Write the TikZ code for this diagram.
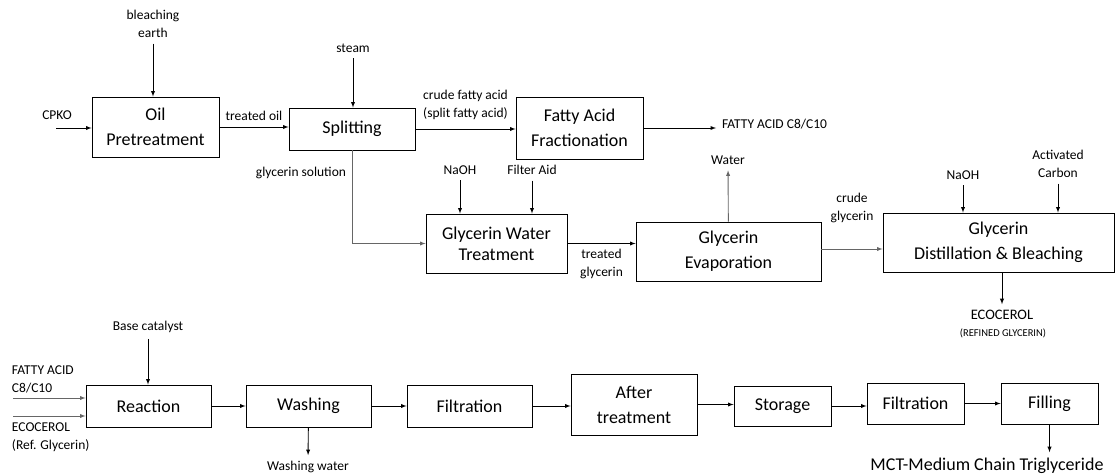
\documentclass[tikz,border=0pt]{standalone}
\usepackage{fontspec}
\setmainfont{Carlito}
\usetikzlibrary{arrows}
\tikzset{
    unit/.style={
    rectangle,draw=black,line width=0.9pt,align=center,inner sep=0pt,
    font=\fontsize{18}{25}\selectfont
    },
    stream/.style={
    align=center,inner sep=1pt,outer sep=5pt,font=\fontsize{13.5}{18}\selectfont
    },
    flow/.style={
    ->,>=latex,line width=0.9pt
    },
    lightflow/.style={
    flow,every edge/.append style={draw=black!60}
    },
}

\begin{document}
\begin{tikzpicture}[x=1pt,y=-1pt]
   \useasboundingbox (0,0) rectangle (1117,476);

   %glycerin line
   \node[unit,minimum width=127pt,minimum height=60pt] (oil) at (155.5,127) {Oil\\Pretreatment};
   \node[unit,minimum width=126pt,minimum height=42pt] (split) at (352,129) {Splitting};
   \node[unit,minimum width=127pt,minimum height=62pt] (frac) at (579.5,128) {Fatty Acid\\Fractionation};
   \node[unit,minimum width=141pt,minimum height=59pt,font=\fontsize{18}{21}\selectfont] (gwt) at (496.5,243.5) {Glycerin Water\\Treatment};
   \node[unit,minimum width=185pt,minimum height=59pt] (evap) at (728.5,251.5) {Glycerin\\Evaporation};
   \node[unit,minimum width=231pt,minimum height=59pt] (dist) at (998.5,242.5) {Glycerin\\Distillation \& Bleaching};

   %MCT line
   \node[unit,minimum width=125pt,minimum height=42pt] (react) at (148.5,406) {Reaction};
   \node[unit,minimum width=125pt,minimum height=42pt] (wash) at (308.5,406) {Washing};
   \node[unit,minimum width=125pt,minimum height=42pt] (filta) at (469.5,406) {Filtration};
   \node[unit,minimum width=126pt,minimum height=61pt] (after) at (634,404.5) {After\\treatment};
   \node[unit,minimum width=97pt,minimum height=40pt] (store) at (782.5,406) {Storage};
   \node[unit,minimum width=97pt,minimum height=41pt] (filtb) at (915.5,403.5) {Filtration};
   \node[unit,minimum width=97pt,minimum height=41pt] (filling) at (1049.5,403.5) {Filling};

   %feeds and products
   \node[stream] (cpko) at (57,115) {CPKO};
   \coordinate (cpkoin) at (56,128);
   \node[stream] (bleach) at (153,24) {bleaching\\earth};
   \node[stream] (steam) at (353,48) {steam};
   \node[stream,anchor=west] (fafrac) at (716,124) {FATTY ACID C8/C10};
   \node[stream] (naoha) at (460,170) {NaOH};
   \node[stream] (aid) at (532,170) {Filter Aid};
   \node[stream] (water) at (728,160) {Water};
   \node[stream] (naohb) at (963,175) {NaOH};
   \node[stream] (carbon) at (1058,164) {Activated\\Carbon};
   \node[stream,font=\fontsize{14.5}{18}\selectfont] (eco) at (1002,315) {ECOCEROL};
   \node[stream,font=\fontsize{10.5}{12}\selectfont] (ecoref) at (1003,333) {(REFINED GLYCERIN)};
   \coordinate (evapout) at ([yshift=2.5pt]evap.east);

   \node[stream] (base) at (148,327) {Base catalyst};
   \node[stream,anchor=west,align=left] (falab) at (6,379.5) {FATTY ACID\\C8/C10};
   \node[stream,anchor=west,align=left] (gllab) at (6,437.5) {ECOCEROL\\(Ref. Glycerin)};
   \coordinate (fain) at (13,398);
   \coordinate (glin) at (13,416);
   \node[stream] (washw) at (308,467) {Washing water};
   \node[stream,font=\fontsize{18}{22}\selectfont] (mct) at (987,466) {MCT-Medium Chain Triglyceride};

  \path[flow]
    (cpkoin) edge (cpkoin -| oil.west)
    (bleach) edge (bleach |- oil.north)
    (oil.east) edge node [stream,above] {treated oil} (oil.east -| split.west)
    (steam) edge (steam |- split.north)
    (split.east) edge node [stream,above=3pt] {crude fatty acid\\(split fatty acid)} (split.east -| frac.west)
    (frac.east) edge (frac.east -| fafrac.west)
    (naoha) edge (naoha |- gwt.north)
    (aid) edge (aid |- gwt.north)
    (gwt.east) edge node [stream,below] {treated\\glycerin} (gwt.east -| evap.west)
    (naohb) edge (naohb |- dist.north)
    (carbon) edge (carbon |- dist.north)
    (eco.north |- dist.south) edge (eco)

    %MCT line
    (base) edge (base |- react.north)
    (react.east) edge (react.east -| wash.west)
    (wash) edge (washw)
    (wash.east) edge (wash.east -| filta.west)
    (filta.east) edge (filta.east -| after.west)
    (after.east) edge (after.east -| store.west)
    (store.east) edge (store.east -| filtb.west)
    (filtb.east) edge (filtb.east -| filling.west)
    (filling.south) edge (filling.south |- mct.north);

  \path[lightflow]
    (evap) edge (water)
    (evapout) edge node [stream,above=20pt] {crude\\glycerin} (evapout -| dist.west)
    (fain) edge (fain -| react.west)
    (glin) edge (glin -| react.west);

  \draw[flow,draw=black!60] (split.south) |- node [stream,left,pos=0.12] {glycerin solution} (gwt.west);
\end{tikzpicture}
\end{document}
